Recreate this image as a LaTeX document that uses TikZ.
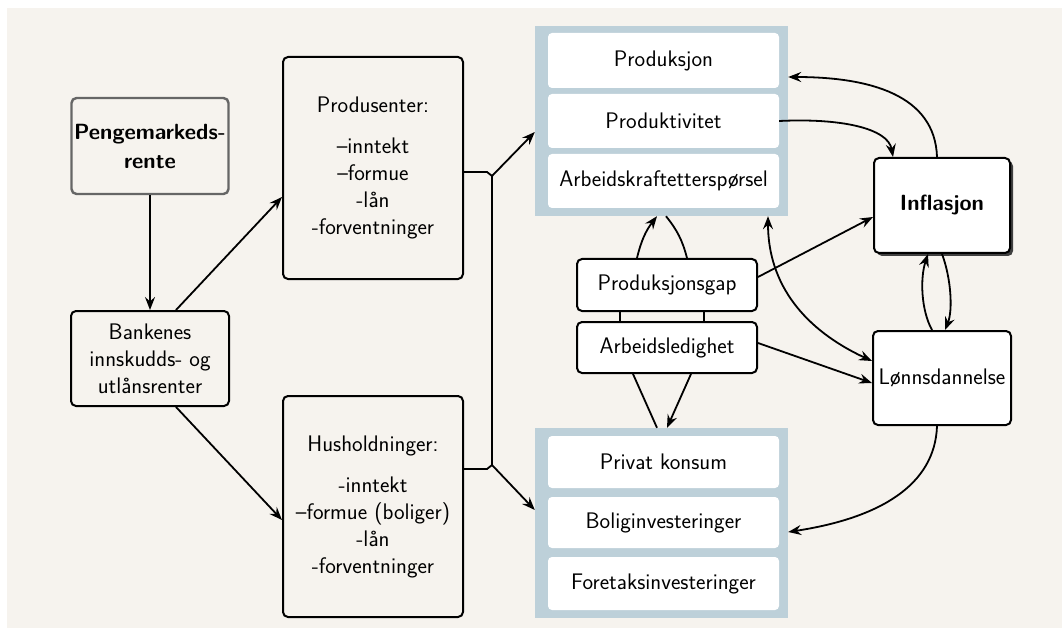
\documentclass[tikz,border=0pt]{standalone}
\usepackage{fontspec}
\usetikzlibrary{arrows.meta,shadows}
\definecolor{bgc}{HTML}{F6F3EE}
\definecolor{grpblue}{HTML}{BDD0D9}
\begin{document}
\begin{tikzpicture}[x=1pt,y=-1pt,
  font=\sffamily\fontsize{22.5}{27}\selectfont,
  box/.style={draw=black,line width=2pt,rounded corners=5pt,fill=bgc,align=center,inner sep=0pt},
  wbox/.style={box,fill=white},
  grp/.style={fill=grpblue,inner sep=0pt},
  cell/.style={fill=white,rounded corners=4pt,inner sep=0pt,minimum width=231pt,align=center},
  conn/.style={line width=1.8pt,draw=black},
  arr/.style={conn,-{Stealth[length=13pt,width=10pt,inset=4.5pt]}},
  darr/.style={conn,{Stealth[length=13pt,width=10pt,inset=4.5pt]}-{Stealth[length=13pt,width=10pt,inset=4.5pt]}}
]
\useasboundingbox (0,0) rectangle (1062,628);
\fill[white] (0,0) rectangle (1062,628);
\fill[bgc] (7,8) rectangle (1062,628);

% left column
\node[box,draw=black!60,line width=2.4pt,minimum width=157pt,minimum height=96pt,font=\sffamily\bfseries\fontsize{22}{29}\selectfont] (peng) at (150,146) {Pengemarkeds-\\rente};
\node[box,minimum width=158pt,minimum height=95pt] (bank) at (150,358.5) {Bankenes\\innskudds- og\\utlånsrenter};

% middle column
\node[box,minimum width=180pt,minimum height=222pt] (prod) at (373,168)
  {Produsenter:\\[14pt]--inntekt\\--formue\\-lån\\-forventninger};
\node[box,minimum width=180pt,minimum height=221pt] (hush) at (373,506.5)
  {Husholdninger:\\[14pt]-inntekt\\--formue (boliger)\\-lån\\-forventninger};

% groups
\node[grp,minimum width=253pt,minimum height=190pt] (topgrp) at (661.5,121) {};
\node[cell,minimum height=55pt] (prodn) at (663.5,60.5) {Produksjon};
\node[cell,minimum height=54pt] (prodv) at (663.5,121) {Produktivitet};
\node[cell,minimum height=54pt] (arbk) at (663.5,181) {Arbeidskraftetterspørsel};

\node[grp,minimum width=253pt,minimum height=190pt] (botgrp) at (661.5,523) {};
\node[cell,minimum height=52pt] (privk) at (663.5,462) {Privat konsum};
\node[cell,minimum height=51pt] (bolig) at (663.5,522.5) {Boliginvesteringer};
\node[cell,minimum height=53pt] (foret) at (663.5,583.5) {Foretaksinvesteringer};

% centre small boxes
\node[wbox,minimum width=180pt,minimum height=52pt] (gap) at (667,285) {Produksjonsgap};
\node[wbox,minimum width=180pt,minimum height=51pt] (ledig) at (667,347.5) {Arbeidsledighet};

% right column
\node[wbox,minimum width=136pt,minimum height=95pt,font=\sffamily\bfseries\fontsize{22}{27}\selectfont,
  drop shadow={shadow xshift=3pt,shadow yshift=-3pt,fill=black!75,opacity=1}] (infl) at (942,205.5) {Inflasjon};
\node[wbox,minimum width=138pt,minimum height=94pt] (lonn) at (942,378) {Lønnsdannelse};

% connectors left
\draw[arr] (peng.south) -- (bank.north);
\draw[arr] ([xshift=26pt]bank.north) -- ([yshift=-29pt]prod.west);
\draw[arr] ([xshift=26pt]bank.south) -- ([yshift=-13.5pt]hush.west);

% brace
\coordinate (bt) at (492,176);
\coordinate (bb) at (492,465);
\draw[conn] ([yshift=-4pt]prod.east) -- (487,172) -- (bt) -- (bb) -- (487,469) -- ([yshift=37.5pt]hush.east);
\draw[arr] (bt) -- ([yshift=-11pt]topgrp.west);
\draw[arr] (bb) -- ([yshift=13pt]botgrp.west);

% right connectors
\draw[arr] ([xshift=-5pt]infl.north) .. controls (935,95) and (870,77) .. ([yshift=44pt]topgrp.east);
\draw[arr] (prodv.east) .. controls (840,118) and (888,128) .. ([xshift=-49pt]infl.north);
\draw[darr] ([xshift=106.5pt]topgrp.south) .. controls (768,285) and (805,330) .. ([yshift=17pt]lonn.west);
\draw[arr] ([xshift=-5pt]lonn.south) .. controls (935,485) and (880,518) .. ([yshift=-9pt]botgrp.east);
\draw[arr] ([xshift=-10pt]lonn.north) .. controls (921,310) and (920,278) .. ([xshift=-14pt]infl.south);
\draw[arr] (infl.south) .. controls (951,278) and (953,310) .. ([xshift=3pt]lonn.north);
\draw[arr] ([yshift=8pt]gap.east) -- ([yshift=-11.5pt]infl.west);
\draw[arr] ([yshift=4.5pt]ledig.east) -- ([yshift=-5pt]lonn.west);

% centre connectors
\draw[arr] ([xshift=-30pt]gap.north) to[bend left=12] ([xshift=-4.5pt]topgrp.south);
\draw[conn] ([xshift=4.5pt]topgrp.south) to[bend left=12] ([xshift=20pt]gap.north);
\draw[conn] ([xshift=-47pt]gap.south) -- ([xshift=-47pt]ledig.north);
\draw[conn] ([xshift=37pt]gap.south) -- ([xshift=37pt]ledig.north);
\draw[conn] ([xshift=-34pt]ledig.south) -- ([xshift=-4.5pt]botgrp.north);
\draw[arr] ([xshift=24pt]ledig.south) -- ([xshift=5.5pt]botgrp.north);
\end{tikzpicture}
\end{document}
